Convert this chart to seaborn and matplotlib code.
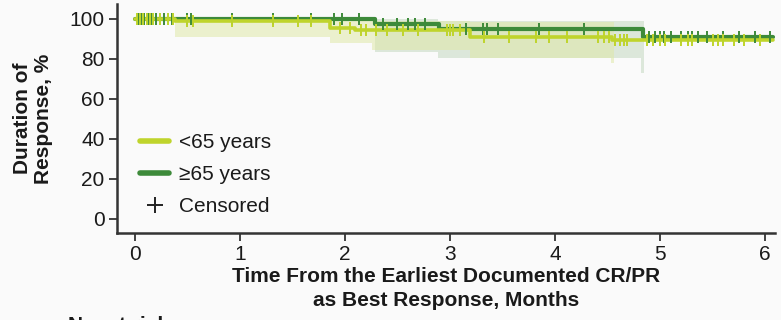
import numpy as np
import pandas as pd
import matplotlib
matplotlib.use("Agg")
import matplotlib.pyplot as plt
from matplotlib.lines import Line2D
import seaborn as sns

# Kaplan-Meier step curves (months, % still in response)
time_lt65 = [0.0, 0.38, 1.86, 2.10, 3.19, 4.54, 6.08]
surv_lt65 = [100.0, 98.9, 95.6, 94.3, 91.0, 89.3, 89.3]
time_ge65 = [0.0, 2.29, 2.90, 4.84, 6.08]
surv_ge65 = [100.0, 97.5, 95.0, 90.8, 90.8]

# 95% confidence bands
band_t_lt65 = [0.38, 1.86, 2.26, 3.19, 4.53, 4.56]
band_lo_lt65 = [91.0, 88.0, 84.5, 80.5, 78.0, 78.0]
band_hi_lt65 = [100.0, 99.5, 99.0, 98.5, 98.5, 98.5]
band_t_ge65 = [2.29, 2.89, 4.82, 4.85]
band_lo_ge65 = [83.5, 80.5, 73.0, 73.0]
band_hi_ge65 = [100.0, 99.0, 99.0, 99.0]

# Censoring times
cens_lt65 = [0.02, 0.05, 0.08, 0.11, 0.14, 0.17, 0.24, 0.31, 0.36, 0.50, 0.55,
             0.92, 1.31, 1.55, 1.68, 1.95, 2.05, 2.15, 2.20, 2.30, 2.40, 2.55,
             2.70, 2.97, 3.00, 3.03, 3.10, 3.32, 3.56, 3.82, 3.94, 4.11, 4.41,
             4.47, 4.51, 4.57, 4.62, 4.66, 4.69, 4.88, 4.93, 5.00, 5.05, 5.20,
             5.27, 5.30, 5.50, 5.55, 5.60, 5.70, 5.80, 5.95]
cens_ge65 = [0.03, 0.06, 0.09, 0.12, 0.16, 0.20, 0.28, 0.35, 0.50, 0.53, 0.92,
             1.31, 1.68, 1.90, 1.97, 2.13, 2.36, 2.50, 2.60, 2.67, 2.76, 3.15,
             3.31, 3.35, 3.46, 3.85, 4.28, 4.90, 4.95, 5.00, 5.04, 5.10, 5.20,
             5.27, 5.30, 5.36, 5.45, 5.60, 5.75, 5.90, 6.05]

groups = ["<65 years", "\u226565 years"]
colors = {"<65 years": "#bfd42c", "\u226565 years": "#3d8a3a"}
band_colors = {"<65 years": "#dfe8a8", "\u226565 years": "#b9d0b4"}

x_ticks = [0, 1, 2, 3, 4, 5, 6]
y_ticks = [0, 20, 40, 60, 80, 100]

sns.set_theme(style="ticks")
plt.rcParams["font.family"] = ["Liberation Sans", "DejaVu Sans"]
text_c = "#1a1a1a"
fs = 15

fig = plt.figure(figsize=(7.81, 3.2), dpi=100, facecolor="#fafafa")
ax = fig.add_axes([0.1498, 0.2719, 0.8425, 0.7156])
ax.set_facecolor("#fafafa")

def step_value(t_arr, s_arr, t):
    idx = np.searchsorted(t_arr, t, side="right") - 1
    return np.asarray(s_arr)[np.clip(idx, 0, len(s_arr) - 1)]

# confidence bands
ax.fill_between(band_t_ge65, band_lo_ge65, band_hi_ge65, step="post",
                color=band_colors[groups[1]], alpha=0.45, lw=0, zorder=1)
ax.fill_between(band_t_lt65, band_lo_lt65, band_hi_lt65, step="post",
                color=band_colors[groups[0]], alpha=0.55, lw=0, zorder=1)

curves = pd.DataFrame({
    "t": time_ge65 + time_lt65,
    "surv": surv_ge65 + surv_lt65,
    "group": [groups[1]] * len(time_ge65) + [groups[0]] * len(time_lt65),
})
for g, lw, z in [(groups[1], 3.0, 3), (groups[0], 2.6, 4)]:
    sub = curves[curves.group == g]
    sns.lineplot(data=sub, x="t", y="surv", color=colors[g], lw=lw,
                 drawstyle="steps-post", ax=ax, zorder=z, legend=False)

cens = pd.DataFrame({
    "t": cens_ge65 + cens_lt65,
    "surv": list(step_value(time_ge65, surv_ge65, np.array(cens_ge65)))
            + list(step_value(time_lt65, surv_lt65, np.array(cens_lt65))),
    "group": [groups[1]] * len(cens_ge65) + [groups[0]] * len(cens_lt65),
})
for g, z in [(groups[1], 5), (groups[0], 6)]:
    sub = cens[cens.group == g]
    sns.scatterplot(data=sub, x="t", y="surv", marker="|", s=85,
                    linewidth=1.4, color=colors[g], ax=ax, zorder=z,
                    legend=False)

ax.set_xlim(-0.171, 6.095)
ax.set_ylim(-7, 107.5)
ax.set_xticks(x_ticks)
ax.set_yticks(y_ticks)
ax.tick_params(axis="both", labelsize=fs, colors="#333333", labelcolor=text_c,
               length=6, width=1.3, direction="out", pad=3)
for side in ["top", "right"]:
    ax.spines[side].set_visible(False)
for side in ["left", "bottom"]:
    ax.spines[side].set_color("#333333")
    ax.spines[side].set_linewidth(1.8)

ax.set_xlabel("Time From the Earliest Documented CR/PR\nas Best Response, Months",
              fontsize=fs, fontweight="bold", color=text_c, labelpad=2,
              linespacing=1.3)
ax.set_ylabel("Duration of\nResponse, %", fontsize=fs, fontweight="bold",
              color=text_c, labelpad=12, linespacing=1.1)

handles = [
    Line2D([], [], color=colors[groups[0]], lw=4),
    Line2D([], [], color=colors[groups[1]], lw=4),
    Line2D([], [], color="#222222", marker="+", ls="none", markersize=12,
           markeredgewidth=1.4),
]
ax.legend(handles, groups + ["Censored"], loc="center left",
          bbox_to_anchor=(0.035, 0.255), frameon=False, fontsize=fs,
          handlelength=1.4, handletextpad=0.45, labelspacing=0.62,
          borderpad=0, borderaxespad=0, labelcolor=text_c)

fig.text(68 / 781, 1 - 316 / 320, "No. at risk", fontsize=fs,
         fontweight="bold", color=text_c, va="top", ha="left")

fig.savefig("out.png", dpi=100, facecolor=fig.get_facecolor())
